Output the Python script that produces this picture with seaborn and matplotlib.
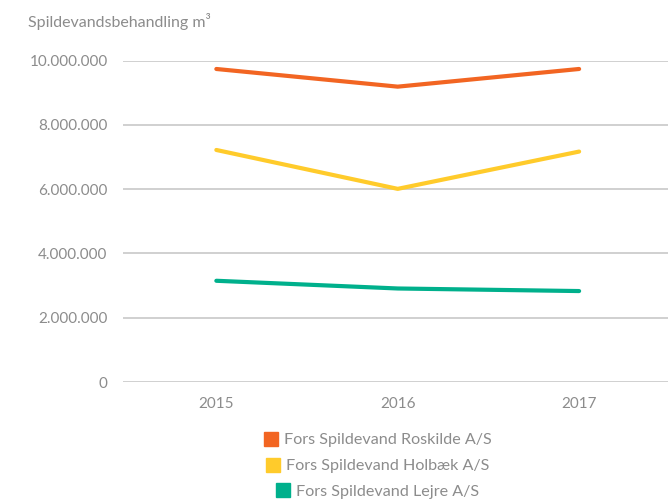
import pandas as pd
import matplotlib.pyplot as plt
import seaborn as sns
from matplotlib.ticker import FuncFormatter
from matplotlib.lines import Line2D

# Data
aar = ["2015", "2016", "2017"]
roskilde = [9740000, 9190000, 9740000]
holbaek = [7220000, 6010000, 7170000]
lejre = [3150000, 2910000, 2830000]
selskaber = ["Fors Spildevand Roskilde A/S", "Fors Spildevand Holbæk A/S", "Fors Spildevand Lejre A/S"]
farver = ["#F26522", "#FFCB2B", "#00B08C"]

df = pd.DataFrame({
    "År": aar * 3,
    "m3": roskilde + holbaek + lejre,
    "Selskab": [selskaber[0]] * 3 + [selskaber[1]] * 3 + [selskaber[2]] * 3,
})

sns.set_theme(style="white")
plt.rcParams["font.family"] = ["Lato", "DejaVu Sans"]
grå = "#8c8c8c"

fig = plt.figure(figsize=(6.68, 5.01), dpi=100)
ax = fig.add_axes([0.184, 0.2375, 0.816, 0.6415])

sns.lineplot(data=df, x="År", y="m3", hue="Selskab", palette=farver,
             linewidth=3, legend=False, ax=ax, solid_capstyle="round")

ax.set_xlim(-0.515, 2.49)
ax.set_ylim(0, 10000000)
ax.set_yticks(range(0, 10000001, 2000000))
ax.yaxis.set_major_formatter(FuncFormatter(lambda v, p: f"{int(v):,}".replace(",", ".")))
ax.grid(axis="y", color="#c8c8c8", linewidth=1.2)
ax.set_axisbelow(True)
for s in ax.spines.values():
    s.set_visible(False)
ax.tick_params(axis="y", length=0, pad=11, labelsize=11, labelcolor=grå)
ax.tick_params(axis="x", length=0, pad=11, labelsize=11, labelcolor=grå)
ax.set_xlabel("")
ax.set_ylabel("")

fig.text(28 / 668, 1 - 21 / 501, "Spildevandsbehandling m³", fontsize=11.5,
         color=grå, va="center", ha="left")

# Legend: one centred row per company
rækker_y = [440, 466, 492]
for navn, farve, yy in zip(selskaber, farver, rækker_y):
    h = Line2D([], [], marker="s", linestyle="none", markersize=10,
               markerfacecolor=farve, markeredgecolor=farve)
    leg = fig.legend([h], [navn], loc="center", bbox_to_anchor=(377 / 668, 1 - yy / 501),
                     frameon=False, fontsize=11.6, handletextpad=0.3, borderpad=0,
                     handlelength=1.0, labelcolor=grå)

fig.savefig("out.png", dpi=100)
